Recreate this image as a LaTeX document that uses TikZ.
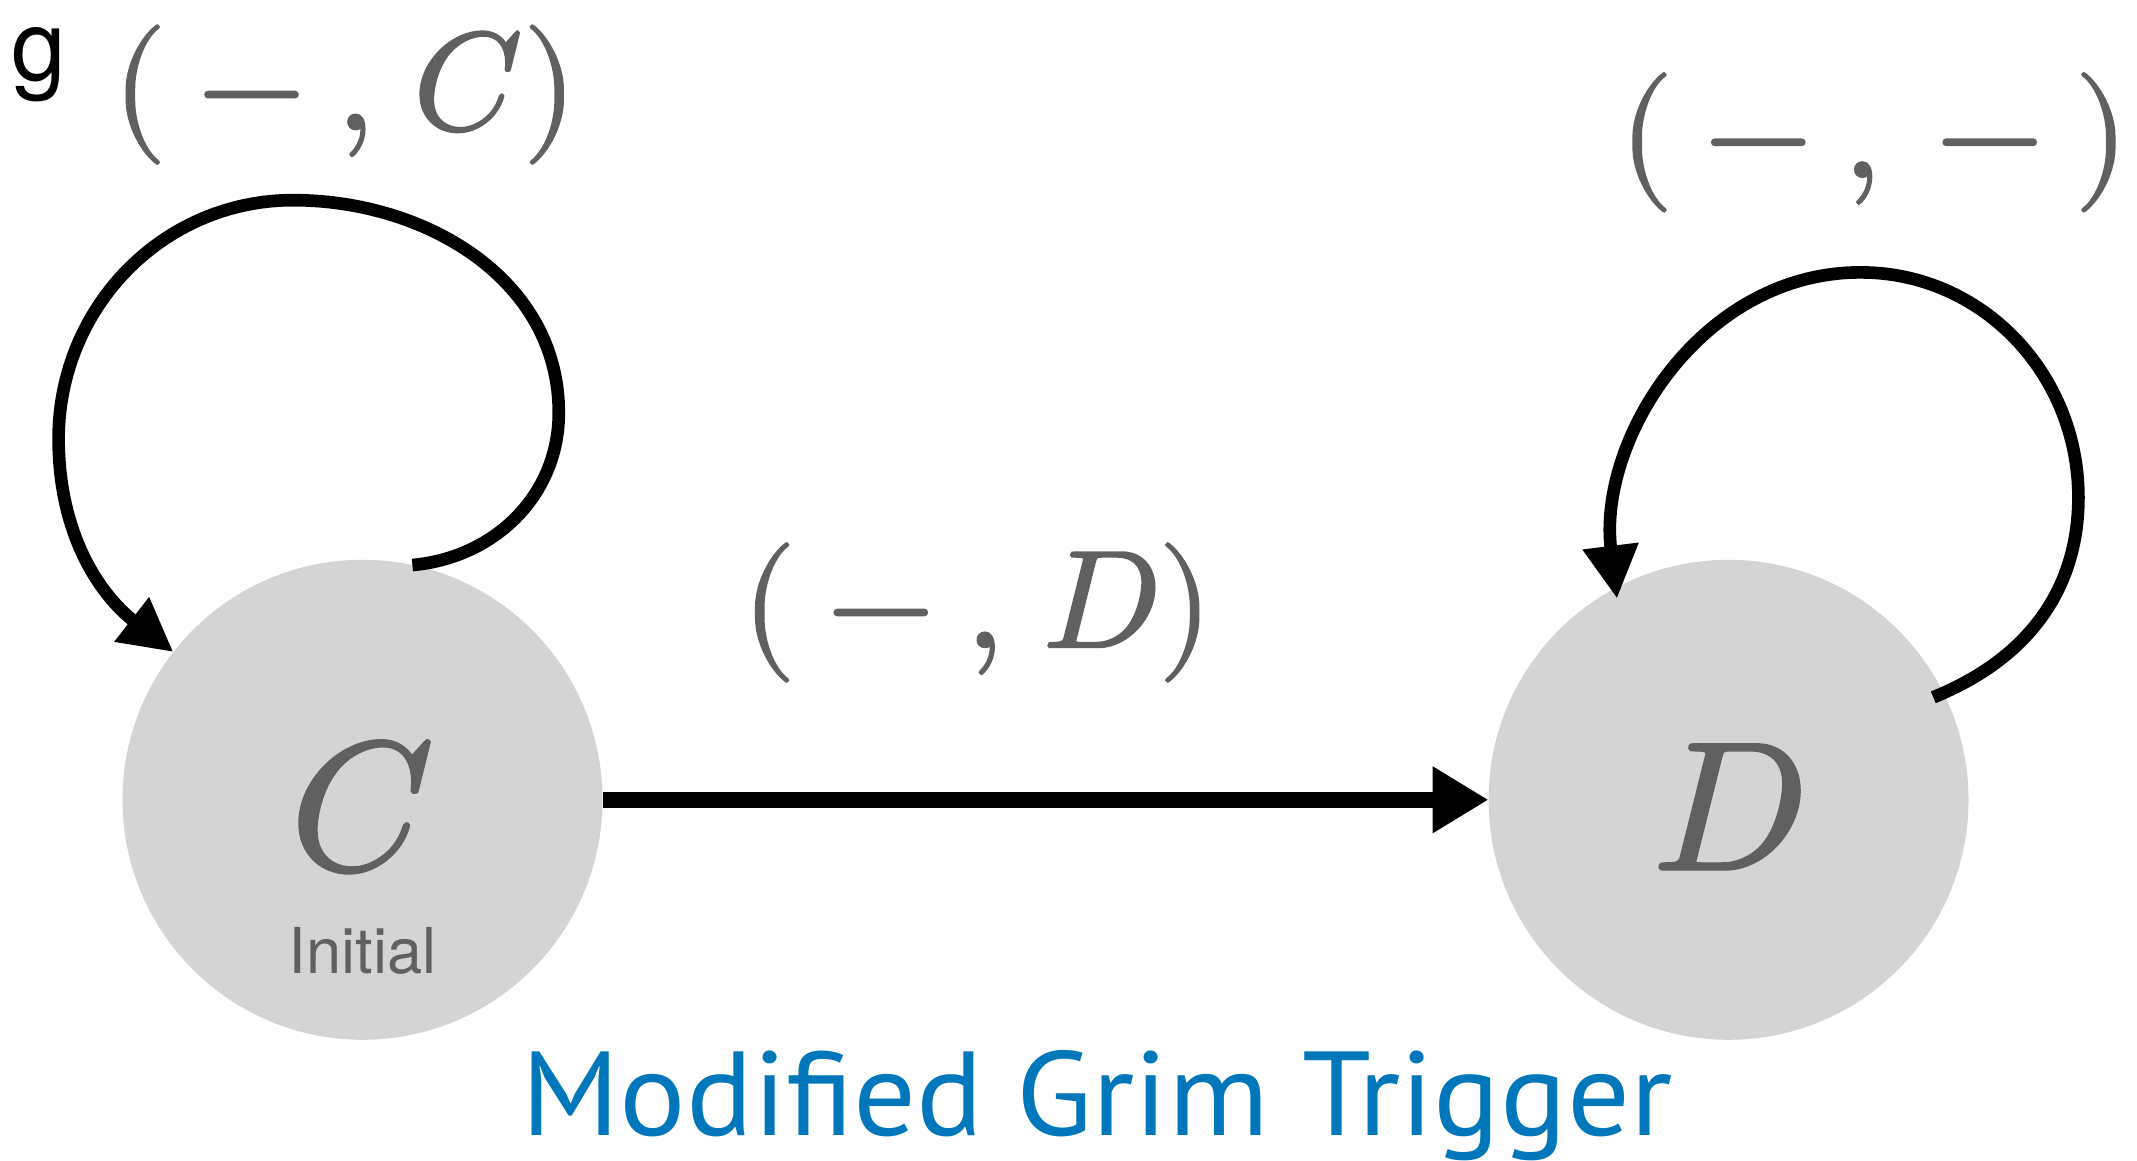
\documentclass[tikz,border=0pt]{standalone}
\usepackage{fontspec}
\usepackage{unicode-math}
\setmathfont[FakeBold=1.5]{Latin Modern Math}
\setsansfont{TeX Gyre Heros}
\newfontfamily\titlefont[FakeStretch=1.04]{PT Sans}
\usetikzlibrary{arrows.meta}
\usetikzlibrary{positioning}

\definecolor{stategrey}{RGB}{212,212,212}
\definecolor{labelgrey}{RGB}{96,96,96}
\definecolor{titleblue}{RGB}{0,119,187}

\tikzset {
  % automaton state
  state/.style = {
    circle,
    fill = stategrey,
    minimum size = 4.8cm,
    inner sep = 0,
    outer sep = 0,
    text = labelgrey,
    text height = 1.39cm,
    text depth = 0cm,
    font = \fontsize{52}{52}\selectfont
  },
  % small text inside a state
  state note/.style = {
    text = labelgrey,
    font = \sffamily\fontsize{18}{18}\selectfont,
    inner sep = 0
  },
  % action profile written next to a transition
  move/.style = {
    text = labelgrey,
    font = \fontsize{39.5}{40}\selectfont,
    inner sep = 0,
    anchor = base
  },
  % transition between two states
  trans/.style = {
    draw = black,
    line width = 4.5pt,
    -{Triangle[length=0.56cm, width=0.63cm]}
  },
  % transition back into the same state
  self trans/.style = {
    draw = black,
    line width = 3.6pt,
    -{Triangle[length=0.53cm, width=0.53cm]}
  },
  node distance = 8.86cm
}

\begin{document}
\begin{tikzpicture}
  \useasboundingbox (0,0) rectangle (21.37,11.61);

  % states
  \node[state] (C) at (3.625,3.612) {$C$};
  \node[state] (D) [right=of C] {$D$};
  \node[state note] (C-note) at ([yshift=-1.51cm]C.center) {Initial};

  % stray letter in the corner
  \node[font=\sffamily\fontsize{28}{28}\selectfont, inner sep=0,
    anchor=north west] (corner) at (0.109,11.339) {g};

  % turning points of the self loops
  \coordinate (C-loop-e) at (5.588,7.482);
  \coordinate (C-loop-n) at (2.930,9.608);
  \coordinate (C-loop-w) at (0.586,7.223);
  \coordinate (D-loop-start) at ([shift={(26.6:2.29)}]D.center);
  \coordinate (D-loop-e) at (20.784,6.637);
  \coordinate (D-loop-n) at (18.604,8.886);
  \coordinate (D-loop-end) at ([shift={(119:2.30)}]D.center);

  \draw[trans] (C) -- (D);

  \draw[self trans] (C.78)
    to[out=5, in=-90] (C-loop-e)
    to[out=90, in=0] (C-loop-n)
    to[out=180, in=90] (C-loop-w)
    to[out=-90, in=142] (C.142);

  \draw[self trans] (D-loop-start)
    to[out=22, in=-90] (D-loop-e)
    to[out=90, in=0] (D-loop-n)
    to[out=180, in=97] (D-loop-end);

  % action profiles
  \node[move] (C-stay) at (3.448,10.317) {$({}-{},\mkern2mu C)$};
  \node[move] (C-to-D) at (9.772,5.138) {$({}-{},\mkern2mu D)$};
  \node[move] (D-stay) at (18.740,9.840) {$({}-{},{}-{})$};

  \node[font=\titlefont\fontsize{34}{34}\selectfont, text=titleblue,
    inner sep=0, anchor=base] (title) at (10.97,0.259) {Modified Grim Trigger};
\end{tikzpicture}
\end{document}
